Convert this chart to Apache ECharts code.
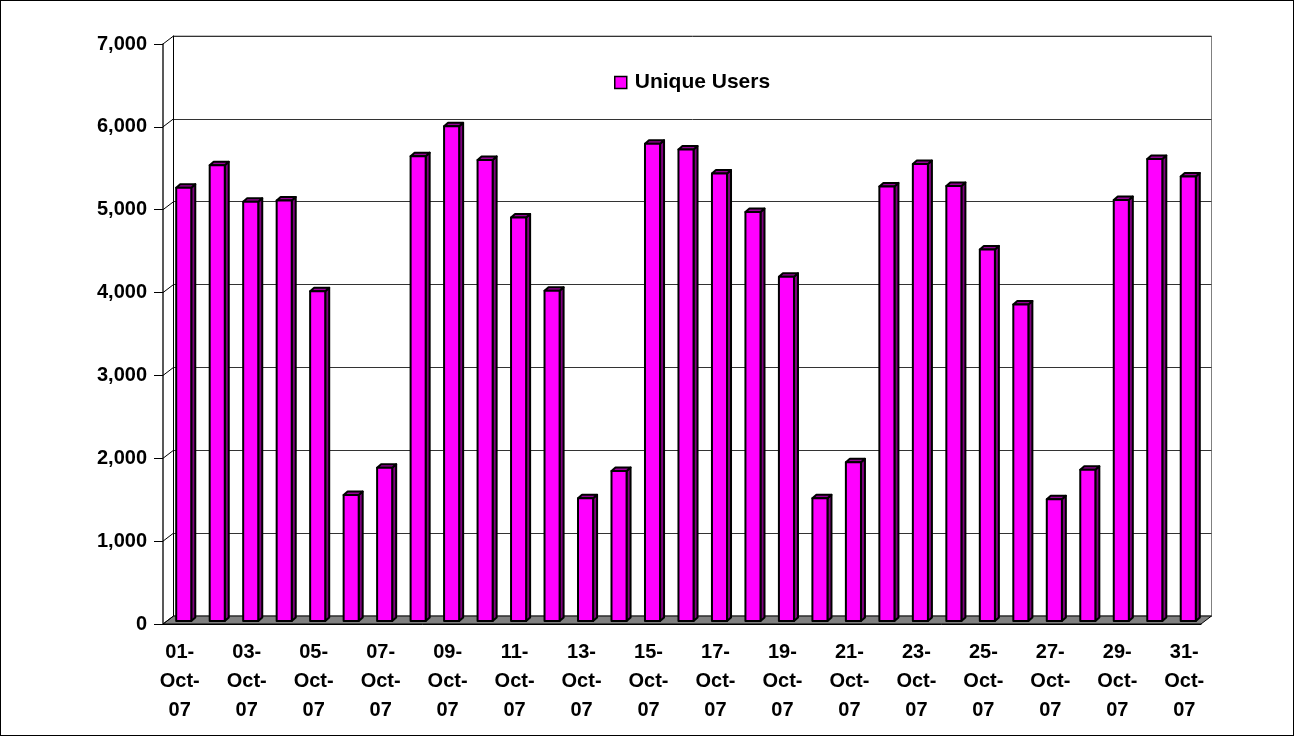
<html lang="en">

<head>
    <meta charset="UTF-8">
    <title>Unique Users</title>
    <script src="https://cdn.jsdelivr.net/npm/echarts@6.0.0/dist/echarts.min.js"></script>
    <style>
        body {
            margin: 0;
        }

        #my-chart {
            position: absolute;
            left: 0;
            top: 0;
            width: 1294px;
            height: 736px;
        }

        #frame {
            position: absolute;
            left: 0;
            top: 0;
            width: 1294px;
            height: 736px;
            box-sizing: border-box;
            border: 1px solid #000;
            pointer-events: none;
        }
    </style>
</head>

<body>
    <div id="my-chart"></div>
    <div id="frame"></div>
    <script>
        var days = [
            '01-Oct-07', '02-Oct-07', '03-Oct-07', '04-Oct-07', '05-Oct-07', '06-Oct-07', '07-Oct-07',
            '08-Oct-07', '09-Oct-07', '10-Oct-07', '11-Oct-07', '12-Oct-07', '13-Oct-07', '14-Oct-07',
            '15-Oct-07', '16-Oct-07', '17-Oct-07', '18-Oct-07', '19-Oct-07', '20-Oct-07', '21-Oct-07',
            '22-Oct-07', '23-Oct-07', '24-Oct-07', '25-Oct-07', '26-Oct-07', '27-Oct-07', '28-Oct-07',
            '29-Oct-07', '30-Oct-07', '31-Oct-07'
        ];
        var uniqueUsers = [
            5230, 5500, 5060, 5075, 3980, 1520, 1850,
            5610, 5970, 5565, 4870, 3985, 1480, 1810,
            5760, 5690, 5400, 4935, 4155, 1480, 1915,
            5245, 5515, 5250, 4485, 3820, 1470, 1825,
            5080, 5575, 5365
        ];
        var yTicks = [0, 1000, 2000, 3000, 4000, 5000, 6000, 7000];

        // 3D look: the back wall sits this far behind the front axes
        var wallDx = 10.5, wallDy = 8;
        var font = 'Liberation Sans';

        var chartDom = document.getElementById('my-chart');
        var myChart = echarts.init(chartDom);

        function halfBand(api) {
            return api.size([1, 0])[0] / 2;
        }

        function renderFloor(params, api) {
            var h = halfBand(api);
            var a = api.coord([0, 0]);
            var b = api.coord([days.length - 1, 0]);
            var l = a[0] - h, r = b[0] + h, y = a[1];
            return {
                type: 'polygon',
                shape: { points: [[l, y], [r, y], [r + wallDx, y - wallDy], [l + wallDx, y - wallDy]] },
                style: { fill: '#808080', stroke: '#000', lineWidth: 1 }
            };
        }

        function renderConnector(params, api) {
            var p = api.coord([0, api.value(1)]);
            var x = p[0] - halfBand(api);
            return {
                type: 'line',
                shape: { x1: x, y1: p[1], x2: x + wallDx, y2: p[1] - wallDy },
                style: { stroke: '#000', lineWidth: 1 }
            };
        }

        function renderBar(params, api) {
            var i = api.value(0);
            var top = api.coord([i, api.value(1)]);
            var base = api.coord([i, 0]);
            var w = api.size([1, 0])[0] * 0.45;
            var dx = 4, dy = 3.5;
            var x = top[0] + 4 - w / 2;
            var y = top[1] - 3;
            var y0 = base[1] - 3;
            var line = { stroke: '#000', lineWidth: 2, lineJoin: 'round' };
            return {
                type: 'group',
                children: [
                    {
                        type: 'polygon',
                        shape: { points: [[x + w, y], [x + w + dx, y - dy], [x + w + dx, y0 - dy], [x + w, y0]] },
                        style: Object.assign({ fill: '#800080' }, line)
                    },
                    {
                        type: 'polygon',
                        shape: { points: [[x, y], [x + dx, y - dy], [x + w + dx, y - dy], [x + w, y]] },
                        style: Object.assign({ fill: '#990099' }, line)
                    },
                    {
                        type: 'rect',
                        shape: { x: x, y: y, width: w, height: y0 - y },
                        style: Object.assign({ fill: '#FF00FF' }, line)
                    }
                ]
            };
        }

        var option = {
            animation: false,
            textStyle: { fontFamily: font },
            legend: {
                data: [{
                    name: 'Unique Users',
                    icon: 'rect',
                    itemStyle: { color: '#FF00FF', borderColor: '#000', borderWidth: 1.5 }
                }],
                left: 609,
                top: 67,
                itemWidth: 12,
                itemHeight: 12,
                itemGap: 6,
                selectedMode: false,
                textStyle: { fontFamily: font, fontSize: 21, fontWeight: 'bold', color: '#000', padding: [0, 0, 0, 3] }
            },
            grid: [
                { left: 163, right: 93, top: 44, bottom: 112 },
                {
                    left: 163 + wallDx, right: 93 - wallDx, top: 44 - wallDy, bottom: 112 + wallDy,
                    show: true, borderColor: '#808080', borderWidth: 1, backgroundColor: 'transparent'
                }
            ],
            xAxis: [
                {
                    type: 'category',
                    gridIndex: 0,
                    data: days,
                    axisLine: { lineStyle: { color: '#000', width: 1 } },
                    axisTick: { interval: 1, length: 9, lineStyle: { color: '#333' } },
                    axisLabel: {
                        interval: 1,
                        margin: 14,
                        color: '#000',
                        fontFamily: font,
                        fontSize: 20,
                        fontWeight: 'bold',
                        lineHeight: 29,
                        formatter: function (v) {
                            return v.split('-').join('-\n');
                        }
                    }
                },
                {
                    type: 'category',
                    gridIndex: 1,
                    data: days,
                    show: false
                }
            ],
            yAxis: [
                {
                    type: 'value',
                    gridIndex: 0,
                    min: 0,
                    max: 7000,
                    interval: 1000,
                    axisLine: { show: true, lineStyle: { color: '#222', width: 1.5 } },
                    axisTick: { show: true, length: 9, lineStyle: { color: '#000' } },
                    splitLine: { show: false },
                    axisLabel: {
                        margin: 16,
                        color: '#000',
                        fontFamily: font,
                        fontSize: 20,
                        fontWeight: 'bold',
                        formatter: function (v) {
                            return v.toLocaleString('en-US');
                        }
                    }
                },
                {
                    type: 'value',
                    gridIndex: 1,
                    min: 0,
                    max: 7000,
                    interval: 1000,
                    axisLine: { show: true, lineStyle: { color: '#000', width: 1 } },
                    axisTick: { show: false },
                    axisLabel: { show: false },
                    splitLine: { show: true, lineStyle: { color: '#333', width: 1 } }
                }
            ],
            series: [
                {
                    name: 'floor',
                    type: 'custom',
                    xAxisIndex: 0,
                    yAxisIndex: 0,
                    renderItem: renderFloor,
                    data: [[0, 0]],
                    silent: true
                },
                {
                    name: 'connectors',
                    type: 'custom',
                    xAxisIndex: 0,
                    yAxisIndex: 0,
                    renderItem: renderConnector,
                    data: yTicks.map(function (v) { return [0, v]; }),
                    silent: true
                },
                {
                    name: 'Unique Users',
                    type: 'custom',
                    xAxisIndex: 0,
                    yAxisIndex: 0,
                    itemStyle: { color: '#FF00FF' },
                    renderItem: renderBar,
                    data: uniqueUsers.map(function (v, i) { return [i, v]; })
                }
            ]
        };

        myChart.setOption(option);
    </script>
</body>

</html>
